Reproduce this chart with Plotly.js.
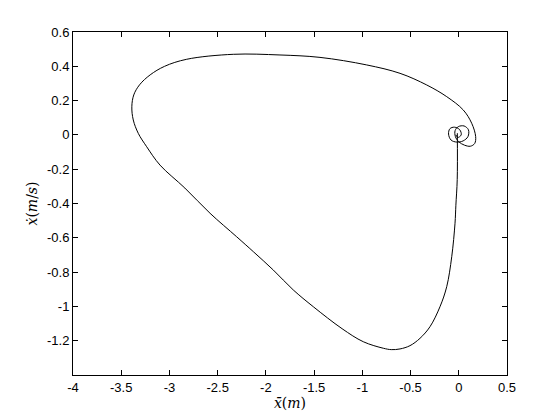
<!DOCTYPE html>
<html>
<head>
<meta charset="utf-8">
<script src="https://cdn.plot.ly/plotly-3.0.1.min.js"></script>
<style>
  html, body { margin: 0; padding: 0; background: #fff; }
  #chart { width: 560px; height: 420px; }
</style>
</head>
<body>
<div id="chart"></div>
<script>
// phase trajectory: position (m) vs velocity (m/s)
const position = [
  -0.015, -0.016, -0.030, -0.039, -0.073, -0.125, -0.195, -0.298, -0.402, -0.506,
  -0.609, -0.700, -0.782, -0.990, -1.210, -1.508, -1.716, -1.923, -2.130,
  -2.303, -2.579, -2.840, -3.098, -3.236, -3.323, -3.375, -3.390, -3.370,
  -3.310, -3.200, -3.050, -2.821, -2.338, -1.854, -1.439, -0.955, -0.609,
  -0.332, -0.125, 0.047, 0.134, 0.175, 0.165, 0.120, 0.060, 0.000, -0.035,
  -0.038, -0.005, 0.055, 0.100, 0.095, 0.045, -0.020, -0.080, -0.106, -0.092,
  -0.045, 0.010, 0.025, -0.010, -0.030
];
const velocity = [
  0.010, -0.260, -0.410, -0.515, -0.710, -0.885, -1.002, -1.118, -1.186, -1.229,
  -1.248, -1.252, -1.244, -1.206, -1.130, -1.002, -0.904, -0.788, -0.681,
  -0.594, -0.457, -0.310, -0.176, -0.069, 0.009, 0.087, 0.164, 0.233,
  0.292, 0.350, 0.400, 0.441, 0.470, 0.466, 0.452, 0.408, 0.359,
  0.291, 0.223, 0.145, 0.068, -0.010, -0.050, -0.066, -0.060, -0.040, -0.010,
  0.025, 0.048, 0.052, 0.030, -0.010, -0.035, -0.042, -0.030, 0.005, 0.036,
  0.045, 0.030, 0.000, -0.015, 0.000
];

const xTicks = [-4, -3.5, -3, -2.5, -2, -1.5, -1, -0.5, 0, 0.5];
const xTickText = ['-4', '-3.5', '-3', '-2.5', '-2', '-1.5', '-1', '-0.5', '0', '0.5'];
const yTicks = [-1.2, -1, -0.8, -0.6, -0.4, -0.2, 0, 0.2, 0.4, 0.6];
const yTickText = ['-1.2', '-1', '-0.8', '-0.6', '-0.4', '-0.2', '0', '0.2', '0.4', '0.6'];

const trace = {
  x: position,
  y: velocity,
  type: 'scatter',
  mode: 'lines',
  line: { color: '#000000', width: 1, shape: 'spline', smoothing: 1 },
  hoverinfo: 'skip'
};

const axisStyle = {
  showline: true,
  linecolor: '#000000',
  linewidth: 1,
  mirror: 'ticks',
  ticks: 'inside',
  ticklen: 5,
  tickwidth: 1,
  tickcolor: '#000000',
  showgrid: false,
  zeroline: false,
  tickfont: { family: 'Liberation Sans, Arial, sans-serif', size: 13, color: '#000000' }
};

const layout = {
  width: 560,
  height: 420,
  xaxis: Object.assign({}, axisStyle, {
    range: [-4, 0.5],
    tickmode: 'array',
    tickvals: xTicks,
    ticktext: xTickText,
    title: {
      text: '<i>x̄</i>(<i>m</i>)',
      font: { family: 'DejaVu Serif, serif', size: 14, color: '#000000' },
      standoff: 4
    }
  }),
  yaxis: Object.assign({}, axisStyle, {
    range: [-1.4, 0.6],
    tickmode: 'array',
    tickvals: yTicks,
    ticktext: yTickText,
    title: {
      text: '<i>ẋ</i>(<i>m</i>/<i>s</i>)',
      font: { family: 'DejaVu Serif, serif', size: 14, color: '#000000' },
      standoff: 6
    }
  }),
  plot_bgcolor: '#ffffff',
  paper_bgcolor: '#ffffff',
  showlegend: false,
  margin: { t: 32, b: 45, l: 73, r: 53 }
};

Plotly.newPlot('chart', [trace], layout, { displayModeBar: false, staticPlot: true });
</script>
</body>
</html>
